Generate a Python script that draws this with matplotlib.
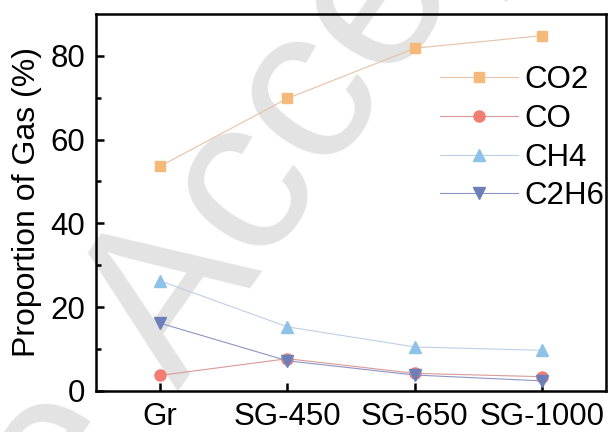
import matplotlib
matplotlib.use('Agg')
import matplotlib.pyplot as plt

samples = ['Gr', 'SG-450', 'SG-650', 'SG-1000']
co2 = [53.6, 69.8, 81.8, 84.8]
co = [3.7, 7.7, 4.2, 3.4]
ch4 = [26.3, 15.3, 10.5, 9.7]
c2h6 = [16.2, 7.2, 3.8, 2.4]

plt.rcParams['font.family'] = 'Liberation Sans'

fig = plt.figure(figsize=(6.08, 4.32), dpi=100)
ax = fig.add_axes([0.158, 0.095, 0.839, 0.873])
ax.patch.set_visible(False)

# watermark behind the axes
wm = dict(rotation=55, rotation_mode='anchor', va='baseline', fontsize=160,
          color='#e3e3e3', zorder=-5)
fig.text(178 / 608, 1 - 392 / 432, 'Accepted', ha='left', **wm)
fig.text(142 / 608, 1 - 444 / 432, 'Article', ha='right', **wm)

x = range(len(samples))
series = [
    (co2, 'CO2', 's', '#f5b97a', '#e6c2a6', 7.5),
    (co, 'CO', 'o', '#f27d72', '#d99a98', 8),
    (ch4, 'CH4', '^', '#8ec2e8', '#bcd0e8', 9),
    (c2h6, 'C2H6', 'v', '#6b80ba', '#8d95c4', 9),
]
for vals, name, mk, mcol, lcol, ms in series:
    ax.plot(x, vals, color=lcol, lw=0.8, marker=mk, ms=ms,
            markerfacecolor=mcol, markeredgecolor=mcol, label=name)

ax.set_xlim(-0.5, 3.5)
ax.set_ylim(0, 90)
ax.set_xticks(list(x))
ax.set_xticklabels(samples)
ax.set_yticks([0, 20, 40, 60, 80])
ax.set_yticks([10, 30, 50, 70], minor=True)
ax.tick_params(axis='both', which='major', direction='in', length=6, width=1.8,
               labelsize=22.5, pad=8)
ax.tick_params(axis='y', which='minor', direction='in', length=3.5, width=1.8)
ax.tick_params(axis='x', which='minor', bottom=False)
for s in ax.spines.values():
    s.set_linewidth(1.8)

ax.set_ylabel('Proportion of Gas (%)', fontsize=23, labelpad=6)

ax.legend(loc='upper right', bbox_to_anchor=(1.02, 0.897), frameon=False,
          fontsize=22.5, handlelength=2.5, handletextpad=0.2,
          labelspacing=0.28, borderaxespad=0)

fig.savefig('out.png', dpi=100)
